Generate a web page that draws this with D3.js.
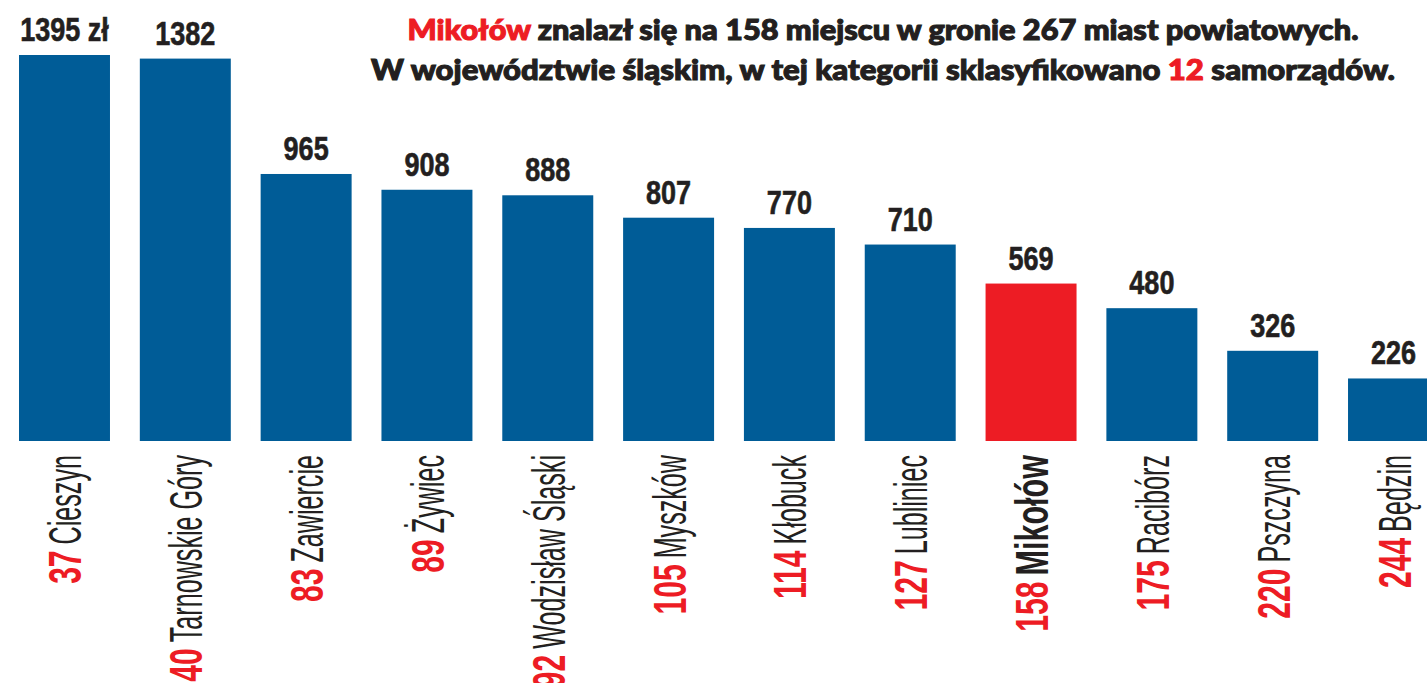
<!DOCTYPE html>
<html>
<head>
<meta charset="utf-8">
<script src="https://cdn.jsdelivr.net/npm/d3@7"></script>
<style>
  html, body { margin: 0; padding: 0; background: #fff; }
  svg { display: block; }
</style>
</head>
<body>
<div id="chart"></div>
<script>
const cities = ["Cieszyn", "Tarnowskie Góry", "Zawiercie", "Żywiec", "Wodzisław Śląski", "Myszków",
    "Kłobuck", "Lubliniec", "Mikołów", "Racibórz", "Pszczyna", "Będzin"];
const ranks = [37, 40, 83, 89, 92, 105, 114, 127, 158, 175, 220, 244];
const values = [1395, 1382, 965, 908, 888, 807, 770, 710, 569, 480, 326, 226];
const highlight = "Mikołów";
const unit = " zł";

const titleLines = [
    [["Mikołów", "red"], [" znalazł się na 158 miejscu w gronie 267 miast powiatowych.", "dark"]],
    [["W województwie śląskim, w tej kategorii sklasyfikowano ", "dark"], ["12", "red"], [" samorządów.", "dark"]]
];

function createBarChart(selector = "#chart") {
    const width = 1427;
    const height = 683;
    const blue = "#005c97";
    const red = "#ed1c24";
    const dark = "#231f20";
    const condensed = "'Liberation Sans', sans-serif";

    const data = cities.map((c, i) => ({ city: c, rank: ranks[i], value: values[i] }));

    const svg = d3.select(selector)
        .html("")
        .append("svg")
        .attr("width", width)
        .attr("height", height);

    const x = d3.scaleBand()
        .domain(cities)
        .range([19, 1439])
        .paddingInner(0.247)
        .paddingOuter(0);

    const y = d3.scaleLinear()
        .domain([0, d3.max(values)])
        .range([441, 55]);

    svg.selectAll(".bar")
        .data(data)
        .join("rect")
        .attr("class", "bar")
        .attr("x", d => x(d.city))
        .attr("y", d => y(d.value))
        .attr("width", x.bandwidth())
        .attr("height", d => y(0) - y(d.value))
        .attr("fill", d => d.city === highlight ? red : blue);

    // value labels above bars (squeezed to look condensed)
    svg.selectAll(".value")
        .data(data)
        .join("text")
        .attr("class", "value")
        .attr("transform", d => `translate(${x(d.city) + x.bandwidth() / 2},${y(d.value) - 14}) scale(0.82,1)`)
        .attr("text-anchor", "middle")
        .style("font-family", condensed)
        .style("font-weight", "bold")
        .style("font-size", "33px")
        .style("fill", dark)
        .style("stroke", dark)
        .style("stroke-width", "0.6px")
        .text((d, i) => i === 0 ? d.value + unit : d.value);

    // rotated labels: rank (red, bold) + city name
    const labels = svg.selectAll(".label")
        .data(data)
        .join("g")
        .attr("class", "label")
        .attr("transform", d => `translate(${x(d.city) + x.bandwidth() / 2},455) rotate(-90)`);

    labels.each(function (d) {
        const g = d3.select(this);
        const bold = d.city === highlight;
        const sxName = bold ? 0.65 : 0.535;
        const name = g.append("text")
            .attr("text-anchor", "end")
            .attr("y", 17)
            .attr("transform", `scale(${sxName},1)`)
            .style("font-family", condensed)
            .style("font-weight", bold ? "bold" : "normal")
            .style("font-size", "47px")
            .style("fill", dark)
            .text(d.city);
        const w = name.node().getComputedTextLength() * sxName;
        g.append("text")
            .attr("text-anchor", "end")
            .attr("y", 17)
            .attr("transform", `translate(${-(w + 6)},0) scale(0.64,1)`)
            .style("font-family", condensed)
            .style("font-weight", "bold")
            .style("font-size", "47px")
            .style("fill", red)
            .text(d.rank);
    });

    // title
    const colors = { red: red, dark: dark };
    const lineWidths = [951, 1024];
    titleLines.forEach((line, li) => {
        const t = svg.append("text")
            .attr("x", 883)
            .attr("y", 40 + li * 40)
            .attr("text-anchor", "middle")
            .attr("textLength", lineWidths[li])
            .attr("lengthAdjust", "spacingAndGlyphs")
            .style("font-family", "Lato, 'Open Sans', sans-serif")
            .style("font-weight", 900)
            .style("font-size", "29px")
            .style("stroke-width", "1.1px");
        line.forEach(([s, c]) => {
            t.append("tspan").style("fill", colors[c]).style("stroke", colors[c]).text(s);
        });
    });
}

createBarChart();
</script>
</body>
</html>
